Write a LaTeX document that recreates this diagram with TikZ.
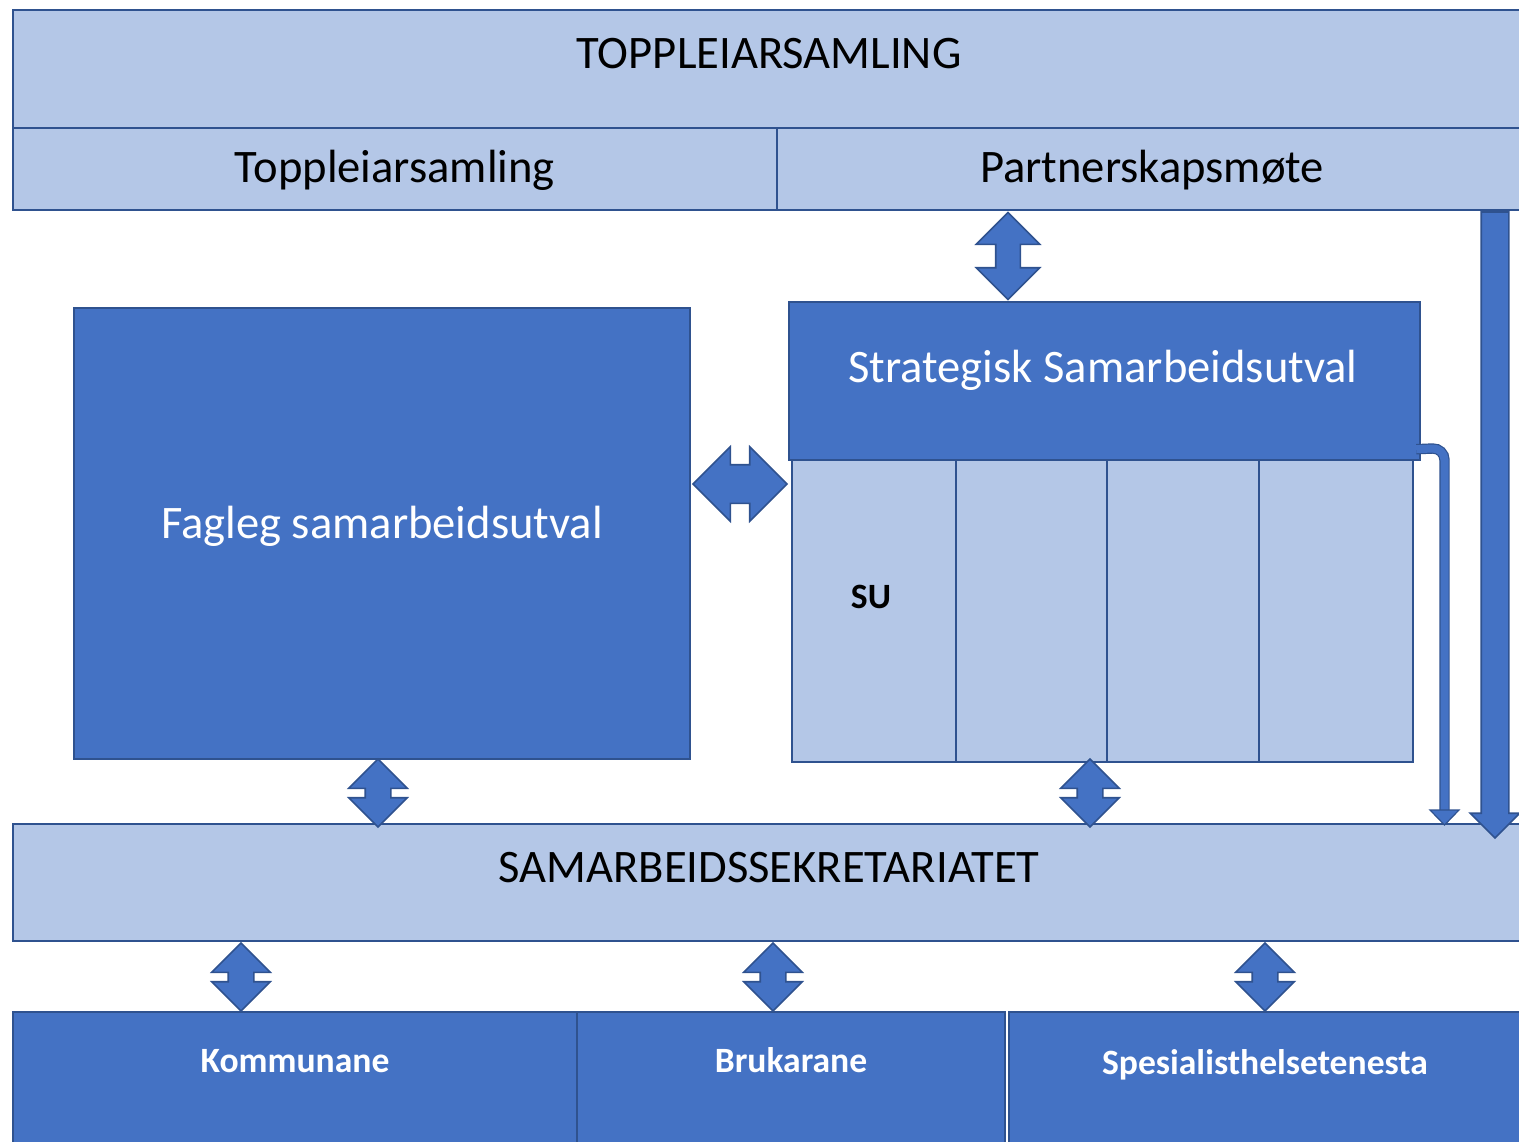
\documentclass[tikz,border=0pt]{standalone}
\usepackage{fontspec}
\setmainfont{Carlito}
\usetikzlibrary{positioning,fit,shapes.arrows}
\definecolor{darkblue}{HTML}{4472C4}
\definecolor{lightblue}{HTML}{B4C7E7}
\definecolor{edgeblue}{HTML}{2F528F}

\begin{document}
\begin{tikzpicture}[x=0.5pt,y=-0.5pt,
    lightbox/.style={draw=edgeblue, fill=lightblue, line width=1.2pt, inner sep=0pt},
    darkbox/.style={draw=edgeblue, fill=darkblue, line width=1.2pt, inner sep=0pt},
    bigtext/.style={font=\fontsize{23.3}{28}\selectfont, anchor=base, inner sep=0pt},
    smalltext/.style={font=\bfseries\fontsize{17.8}{21}\selectfont, anchor=base, inner sep=0pt},
    dlink/.style={double arrow, draw=edgeblue, fill=darkblue, line width=0.8pt, inner xsep=0pt},
    vlink/.style={dlink, rotate=90, inner ysep=6pt, double arrow head extend=8.25pt, minimum height=34pt}]
    \useasboundingbox (0,0) rectangle (1519,1141);
    % boxes
    \node[lightbox, fit={(13,10) (1530,128)}] (Topp) {};
    \node[lightbox, fit={(13,128) (777,210)}] (Topp_1) {};
    \node[lightbox, fit={(777,128) (1530,210)}] (Part) {};
    \node[darkbox, fit={(74,308) (690,759)}] (FSU) {};
    \node[darkbox, fit={(789,302) (1420,460)}] (SSU) {};
    \node[lightbox, fit={(792,460) (956,762)}] (SSU_1) {};
    \node[lightbox, fit={(956,460) (1107,762)}] (SSU_2) {};
    \node[lightbox, fit={(1107,460) (1259,762)}] (SSU_3) {};
    \node[lightbox, fit={(1259,460) (1413,762)}] (SSU_4) {};
    \node[lightbox, fit={(13,824) (1530,941)}] (Sek) {};
    \node[darkbox, fit={(13,1012) (577,1160)}] (Kom) {};
    \node[darkbox, fit={(577,1012) (1005,1160)}] (Bru) {};
    \node[darkbox, fit={(1009,1012) (1530,1160)}] (Spe) {};
    % texts
    \node[bigtext] (Topp_t) at (769,68) {TOPPLEIARSAMLING};
    \node[bigtext] (Topp_1t) at (395,182) {Toppleiarsamling};
    \node[bigtext] (Part_t) at (1152,182) {Partnerskapsmøte};
    \node[bigtext, white] (SSU_t) at (1103,382) {Strategisk Samarbeidsutval};
    \node[bigtext, white] (FSU_t) at (382,538) {Fagleg samarbeidsutval};
    \node[smalltext] (SSU_1t) at (871,608) {SU};
    \node[bigtext] (Sek_t) at (769,882) {SAMARBEIDSSEKRETARIATET};
    \node[smalltext, white] (Kom_t) at (295,1072) {Kommunane};
    \node[smalltext, white] (Bru_t) at (791,1072) {Brukarane};
    \node[smalltext, white] (Spe_t) at (1265,1074) {Spesialisthelsetenesta};
    % links
    \node[dlink, inner ysep=9.25pt, double arrow head extend=9pt, minimum height=47pt] (A_1) at (740,484) {};
    \node[dlink, rotate=90, inner ysep=5.75pt, double arrow head extend=9.75pt, minimum height=43.5pt] (A_2) at (1008,256) {};
    \node[vlink] (A_3) at (378,793) {};
    \node[vlink] (A_4) at (1090,793) {};
    \node[vlink] (A_5) at (241,977) {};
    \node[vlink] (A_6) at (773,977) {};
    \node[vlink] (A_7) at (1265,977) {};
    \node[single arrow, rotate=-90, anchor=tail, draw=edgeblue, fill=darkblue, line width=0.8pt, inner xsep=0pt, inner ysep=6.5pt,
        single arrow head extend=5.5pt, minimum height=313pt] (A_8) at (Part.south -| 1495,0) {};
    \draw[draw=edgeblue, line width=0.6pt, double=darkblue, double distance=4pt, rounded corners=6pt]
        ([xshift=-2.5pt,yshift=6pt]SSU.south east) -- (1444.5,448) -- (1444.5,811);
    \filldraw[fill=darkblue, draw=edgeblue, line width=0.6pt] (1430,810) -- (1459,810) -- (1444.5,825) -- cycle;
\end{tikzpicture}
\end{document}
